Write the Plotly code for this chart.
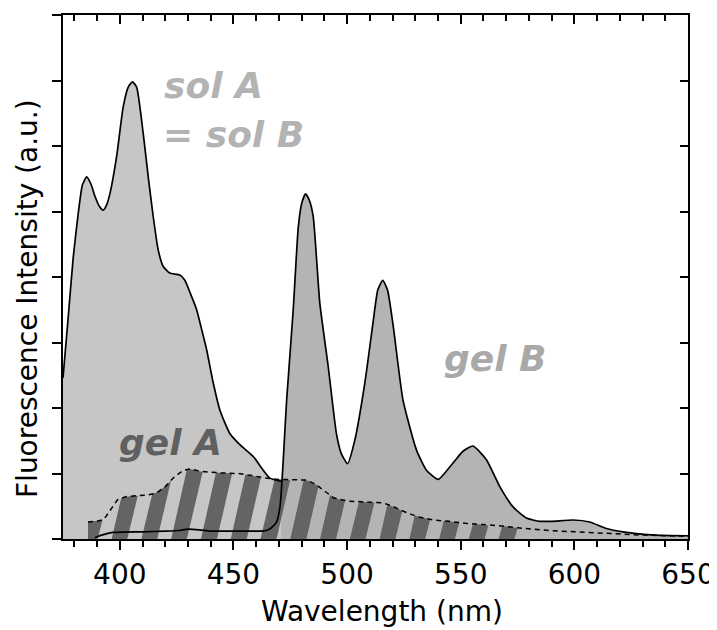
import numpy as np
import plotly.graph_objects as go

# ---------------- data ----------------
sol_nm = [375, 377.3, 379.5, 381.7, 383.5, 385.4, 387.3, 389.1, 391, 392.7, 394.2, 395.7, 398.6,
          401.5, 403.7, 405.5, 407.4, 410.3, 412.5, 414.7, 416.9, 419.1, 422, 426.4, 428.6,
          431.6, 433.8, 436, 438.2, 441, 444, 448.4, 452.8, 458.7, 463.1, 466, 471]
sol_val = [2.46, 3.39, 4.3, 4.97, 5.4, 5.53, 5.42, 5.23, 5.08, 5.02, 5.1, 5.28, 5.84,
           6.6, 6.9, 6.98, 6.9, 6.19, 5.53, 4.92, 4.41, 4.16, 4.06, 4.03, 3.95,
           3.7, 3.5, 3.2, 2.89, 2.4, 1.97, 1.61, 1.44, 1.26, 1.05, 0.93, 0.88]

gelB_nm = [389, 392, 397, 410, 420, 426, 430, 435, 440, 450, 458, 463, 465.3, 467, 469, 470.5,
           471.2, 471.9, 473.4, 476.3, 478.5, 480, 481.7, 483.3, 485.1, 488, 491.7, 495.3,
           497.5, 500.2, 503.4, 507.8, 511.4, 513.5, 515.7, 517.8, 520.3, 524.6, 530.5, 534.9,
           540.1, 546.6, 551, 555.4, 561.3, 567.2, 573, 578.9, 584.8, 590, 599.4, 606.7,
           614.1, 621.4, 636, 650]
gelB_val = [0.02, 0.06, 0.1, 0.11, 0.12, 0.13, 0.15, 0.14, 0.12, 0.12, 0.12, 0.12, 0.14, 0.18, 0.26, 0.5,
            0.8, 1.2, 2.12, 3.5, 4.75, 5.12, 5.27, 5.18, 4.92, 3.6, 2.63, 1.61,
            1.3, 1.15, 1.51, 2.38, 3.3, 3.8, 3.95, 3.8, 3.25, 2.12, 1.36, 1.05,
            0.91, 1.16, 1.34, 1.42, 1.21, 0.8, 0.49, 0.32, 0.27, 0.27, 0.29, 0.26,
            0.16, 0.11, 0.06, 0.05]

gelA_nm = [386, 390, 393, 396, 399, 403, 408, 412, 416, 420, 424, 428, 431, 436, 444, 452,
           458, 464, 470, 476, 482, 486, 490, 494, 500, 508, 516, 520, 525, 531, 538, 545,
           552, 560, 568, 575, 589, 600, 615, 630, 650]
gelA_val = [0.26, 0.27, 0.3, 0.45, 0.6, 0.65, 0.66, 0.67, 0.7, 0.8, 0.95, 1.05, 1.07, 1.03, 1.01, 1.0,
            0.97, 0.93, 0.91, 0.9, 0.9, 0.84, 0.74, 0.63, 0.58, 0.56, 0.55, 0.5, 0.42, 0.34, 0.29, 0.27,
            0.24, 0.22, 0.2, 0.17, 0.13, 0.11, 0.08, 0.06, 0.04]

x_tick_vals = [400, 450, 500, 550, 600, 650]

# ---------------- style ----------------
SOL_FILL = "#c6c6c6"
GELB_FILL = "#b4b4b4"
STRIPE = "#646464"
FONT = "DejaVu Sans"

# hatch pattern parameters (in axis units)
hatch_start = 383.3
hatch_spacing = 13.1
hatch_width = 7.2
hatch_slant = 6.5   # nm of horizontal shift per unit of intensity
n_stripes = 15

gA_x = np.array(gelA_nm, dtype=float)
gA_y = np.array(gelA_val, dtype=float)


def gelA_height(x):
    h = np.interp(x, gA_x, gA_y)
    h[(x < gA_x[0]) | (x > gA_x[-1])] = 0.0
    return h


hx, hy = [], []
for i in range(n_stripes):
    x0 = hatch_start + i * hatch_spacing
    xx = np.arange(x0, x0 + hatch_width + hatch_slant * 1.2, 0.05)
    h = gelA_height(xx)
    lo = np.maximum(0.0, (xx - x0 - hatch_width) / hatch_slant)
    hi = np.minimum(h, (xx - x0) / hatch_slant)
    m = hi > lo
    if not m.any():
        continue
    xv = xx[m]
    hx += list(xv) + list(xv[::-1]) + [None]
    hy += list(hi[m]) + list(lo[m][::-1]) + [None]

fig = go.Figure()

# gel B fill
fig.add_trace(go.Scatter(x=gelB_nm, y=gelB_val, mode="lines", line=dict(width=0, shape="spline", smoothing=0.5),
                         fill="tozeroy", fillcolor=GELB_FILL, hoverinfo="skip", showlegend=False))
# sol fill
fig.add_trace(go.Scatter(x=sol_nm, y=sol_val, mode="lines", line=dict(width=0, shape="spline", smoothing=0.5),
                         fill="tozeroy", fillcolor=SOL_FILL, hoverinfo="skip", showlegend=False))
# gel A hatch
fig.add_trace(go.Scatter(x=hx, y=hy, mode="lines", line=dict(width=0), fill="toself",
                         fillcolor=STRIPE, hoverinfo="skip", showlegend=False))
# outlines
fig.add_trace(go.Scatter(x=sol_nm, y=sol_val, mode="lines",
                         line=dict(color="black", width=1.7, shape="spline", smoothing=0.5),
                         name="sol A = sol B", showlegend=False))
fig.add_trace(go.Scatter(x=gelB_nm, y=gelB_val, mode="lines",
                         line=dict(color="black", width=1.7, shape="spline", smoothing=0.5),
                         name="gel B", showlegend=False))
# gel A dashed outline (on the mirrored top/right axes, which share the same ranges)
fig.add_trace(go.Scatter(x=gelA_nm, y=gelA_val, mode="lines", xaxis="x2", yaxis="y2",
                         line=dict(color="black", width=1.5, dash="5px,4px"),
                         name="gel A", showlegend=False))

lab_font = dict(family=FONT, size=36, weight="bold", style="italic")
fig.add_annotation(x=418.5, y=6.92, xref="x", yref="y", text="sol A", showarrow=False,
                   xanchor="left", yanchor="middle", font=dict(lab_font, color="#b3b3b3"))
fig.add_annotation(x=418.3, y=6.17, xref="x", yref="y", text="= sol B", showarrow=False,
                   xanchor="left", yanchor="middle", font=dict(lab_font, color="#b3b3b3"))
fig.add_annotation(x=541.7, y=2.75, xref="x", yref="y", text="gel B", showarrow=False,
                   xanchor="left", yanchor="middle", font=dict(lab_font, color="#a9a9a9"))
fig.add_annotation(x=398.6, y=1.47, xref="x", yref="y", text="gel A", showarrow=False,
                   xanchor="left", yanchor="middle", font=dict(lab_font, color="#606060"))

# axis titles
fig.add_annotation(x=0.5096, y=-0.139, xref="paper", yref="paper", text="Wavelength (nm)",
                   showarrow=False, xanchor="center", yanchor="middle",
                   font=dict(family=FONT, size=28, color="black"))
fig.add_annotation(x=-0.0576, y=0.458, xref="paper", yref="paper", text="Fluorescence Intensity (a.u.)",
                   showarrow=False, xanchor="center", yanchor="middle", textangle=-90,
                   font=dict(family=FONT, size=28, color="black"))

axis_common = dict(showgrid=False, zeroline=False, showline=True, linecolor="black", linewidth=2,
                   tickcolor="black", tickwidth=1.5, automargin=False)

# the page body adds an 8px offset, so the figure is 8px smaller and its left/top margins 8px less
fig.update_layout(
    width=709, height=622,
    margin=dict(l=55, r=29, t=7, b=91),
    paper_bgcolor="white", plot_bgcolor="white",
    font=dict(family=FONT, size=28, color="black"),
    showlegend=False,
    xaxis=dict(axis_common, range=[375, 650], tickmode="array", tickvals=x_tick_vals,
               ticks="outside", ticklen=9,
               minor=dict(dtick=10, tick0=400, ticks="outside", ticklen=6, tickwidth=1.5, tickcolor="black"),
               tickfont=dict(family=FONT, size=28, color="black")),
    xaxis2=dict(axis_common, range=[375, 650], overlaying="x", side="top", anchor="y2",
                tickmode="array", tickvals=x_tick_vals, ticks="inside", ticklen=9, showticklabels=False,
                minor=dict(dtick=10, tick0=400, ticks="inside", ticklen=6, tickwidth=1.5, tickcolor="black")),
    yaxis=dict(axis_common, range=[0, 8], dtick=1, tick0=0, ticks="outside", ticklen=9,
               showticklabels=False),
    yaxis2=dict(axis_common, range=[0, 8], dtick=1, tick0=0, overlaying="y", side="right", anchor="x2",
                ticks="inside", ticklen=8, showticklabels=False),
)

fig.write_html("out.html")
